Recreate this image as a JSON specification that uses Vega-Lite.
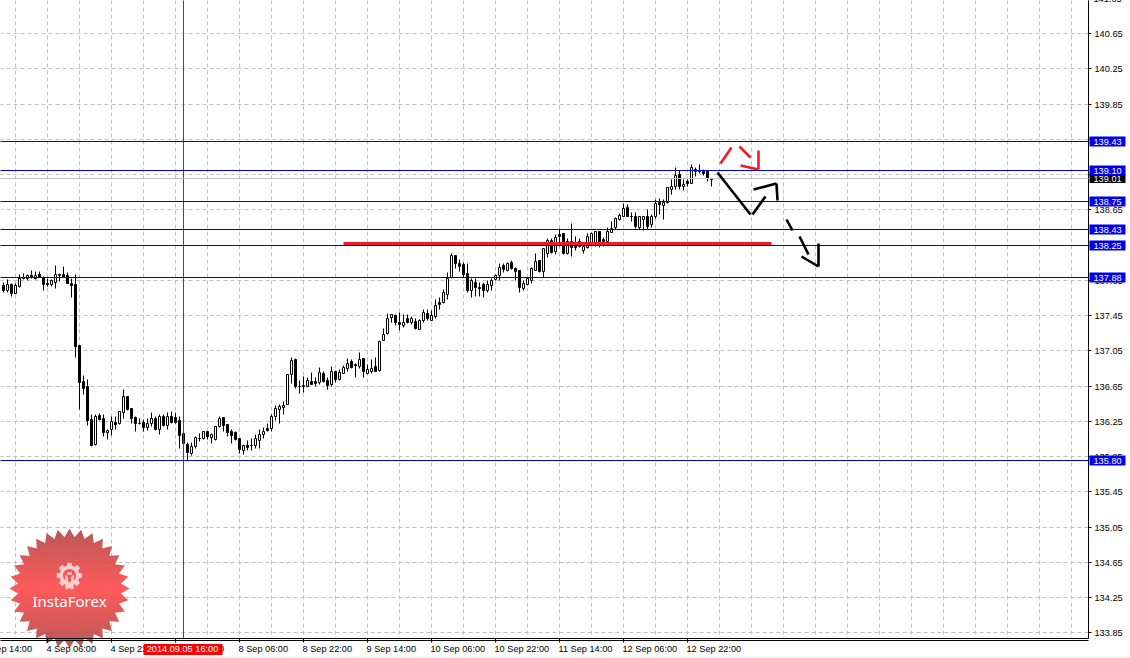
{"$schema":"https://vega.github.io/schema/vega-lite/v6.json","width":1088,"height":638,"autosize":{"type":"none"},"padding":{"left":0.5,"top":0.5,"right":41.5,"bottom":19.5},"background":"#ffffff","config":{"view":{"stroke":null}},
"datasets":{
"candles":[
{"i":0,"o":137.79,"h":137.83,"l":137.71,"c":137.73},{"i":1,"o":137.73,"h":137.86,"l":137.71,"c":137.8},{"i":2,"o":137.8,"h":137.81,"l":137.67,"c":137.7},{"i":3,"o":137.7,"h":137.82,"l":137.7,"c":137.79},{"i":4,"o":137.78,"h":137.92,"l":137.77,"c":137.87},{"i":5,"o":137.87,"h":137.93,"l":137.86,"c":137.88},{"i":6,"o":137.87,"h":137.92,"l":137.85,"c":137.9},{"i":7,"o":137.9,"h":137.96,"l":137.87,"c":137.88},{"i":8,"o":137.87,"h":137.95,"l":137.86,"c":137.91},{"i":9,"o":137.92,"h":137.95,"l":137.88,"c":137.88},
{"i":10,"o":137.88,"h":137.89,"l":137.73,"c":137.8},{"i":11,"o":137.81,"h":137.87,"l":137.78,"c":137.8},{"i":12,"o":137.8,"h":137.86,"l":137.78,"c":137.85},{"i":13,"o":137.83,"h":138.02,"l":137.76,"c":137.92},{"i":14,"o":137.91,"h":137.93,"l":137.84,"c":137.92},{"i":15,"o":137.92,"h":138.01,"l":137.88,"c":137.89},{"i":16,"o":137.9,"h":137.94,"l":137.82,"c":137.82},{"i":17,"o":137.82,"h":137.87,"l":137.65,"c":137.79},{"i":18,"o":137.8,"h":137.92,"l":136.98,"c":137.1},{"i":19,"o":137.11,"h":137.11,"l":136.38,"c":136.69},
{"i":20,"o":136.7,"h":136.77,"l":136.55,"c":136.62},{"i":21,"o":136.64,"h":136.73,"l":136.2,"c":136.26},{"i":22,"o":136.27,"h":136.33,"l":135.96,"c":135.98},{"i":23,"o":135.99,"h":136.33,"l":135.98,"c":136.31},{"i":24,"o":136.32,"h":136.34,"l":136.26,"c":136.27},{"i":25,"o":136.28,"h":136.33,"l":136.08,"c":136.12},{"i":26,"o":136.12,"h":136.16,"l":136.04,"c":136.15},{"i":27,"o":136.16,"h":136.3,"l":136.09,"c":136.25},{"i":28,"o":136.24,"h":136.3,"l":136.16,"c":136.21},{"i":29,"o":136.22,"h":136.36,"l":136.21,"c":136.36},
{"i":30,"o":136.35,"h":136.61,"l":136.28,"c":136.53},{"i":31,"o":136.53,"h":136.53,"l":136.37,"c":136.38},{"i":32,"o":136.39,"h":136.39,"l":136.22,"c":136.28},{"i":33,"o":136.29,"h":136.3,"l":136.14,"c":136.22},{"i":34,"o":136.23,"h":136.28,"l":136.21,"c":136.22},{"i":35,"o":136.24,"h":136.27,"l":136.13,"c":136.18},{"i":36,"o":136.18,"h":136.28,"l":136.15,"c":136.23},{"i":37,"o":136.23,"h":136.35,"l":136.19,"c":136.28},{"i":38,"o":136.28,"h":136.31,"l":136.15,"c":136.16},{"i":39,"o":136.16,"h":136.33,"l":136.1,"c":136.31},
{"i":40,"o":136.31,"h":136.33,"l":136.19,"c":136.2},{"i":41,"o":136.2,"h":136.35,"l":136.16,"c":136.3},{"i":42,"o":136.3,"h":136.36,"l":136.23,"c":136.24},{"i":43,"o":136.29,"h":136.35,"l":136.23,"c":136.24},{"i":44,"o":136.26,"h":136.31,"l":135.94,"c":136.09},{"i":45,"o":136.11,"h":136.26,"l":135.94,"c":136},{"i":46,"o":135.99,"h":136.01,"l":135.8,"c":135.9},{"i":47,"o":135.88,"h":136.01,"l":135.86,"c":135.96},{"i":48,"o":135.96,"h":136.08,"l":135.94,"c":136.07},{"i":49,"o":136.05,"h":136.11,"l":136.02,"c":136.06},
{"i":50,"o":136.05,"h":136.13,"l":136.04,"c":136.13},{"i":51,"o":136.13,"h":136.13,"l":136.04,"c":136.08},{"i":52,"o":136.07,"h":136.11,"l":136,"c":136.1},{"i":53,"o":136.04,"h":136.19,"l":136.03,"c":136.19},{"i":54,"o":136.19,"h":136.3,"l":136.18,"c":136.28},{"i":55,"o":136.29,"h":136.29,"l":136.13,"c":136.2},{"i":56,"o":136.21,"h":136.21,"l":136.08,"c":136.12},{"i":57,"o":136.13,"h":136.16,"l":136,"c":136.09},{"i":58,"o":136.12,"h":136.13,"l":136.03,"c":136.04},{"i":59,"o":136.05,"h":136.05,"l":135.89,"c":135.93},
{"i":60,"o":135.92,"h":135.97,"l":135.87,"c":135.97},{"i":61,"o":135.98,"h":136.03,"l":135.92,"c":135.95},{"i":62,"o":135.98,"h":136.05,"l":135.92,"c":135.97},{"i":63,"o":135.97,"h":136.1,"l":135.94,"c":136.05},{"i":64,"o":136.03,"h":136.16,"l":135.94,"c":136.1},{"i":65,"o":136.1,"h":136.18,"l":136.06,"c":136.14},{"i":66,"o":136.17,"h":136.23,"l":136.13,"c":136.15},{"i":67,"o":136.17,"h":136.33,"l":136.14,"c":136.31},{"i":68,"o":136.31,"h":136.43,"l":136.26,"c":136.39},{"i":69,"o":136.38,"h":136.44,"l":136.23,"c":136.42},
{"i":70,"o":136.41,"h":136.48,"l":136.33,"c":136.43},{"i":71,"o":136.44,"h":136.78,"l":136.44,"c":136.78},{"i":72,"o":136.78,"h":136.97,"l":136.68,"c":136.94},{"i":73,"o":136.95,"h":136.96,"l":136.62,"c":136.65},{"i":74,"o":136.65,"h":136.71,"l":136.57,"c":136.64},{"i":75,"o":136.64,"h":136.76,"l":136.58,"c":136.66},{"i":76,"o":136.65,"h":136.75,"l":136.64,"c":136.71},{"i":77,"o":136.7,"h":136.8,"l":136.67,"c":136.67},{"i":78,"o":136.7,"h":136.75,"l":136.64,"c":136.68},{"i":79,"o":136.69,"h":136.86,"l":136.67,"c":136.8},
{"i":80,"o":136.79,"h":136.81,"l":136.69,"c":136.7},{"i":81,"o":136.71,"h":136.75,"l":136.61,"c":136.66},{"i":82,"o":136.67,"h":136.87,"l":136.65,"c":136.82},{"i":83,"o":136.81,"h":136.83,"l":136.69,"c":136.73},{"i":84,"o":136.72,"h":136.84,"l":136.71,"c":136.8},{"i":85,"o":136.79,"h":136.88,"l":136.79,"c":136.86},{"i":86,"o":136.85,"h":136.96,"l":136.82,"c":136.91},{"i":87,"o":136.93,"h":136.95,"l":136.85,"c":136.86},{"i":88,"o":136.89,"h":136.91,"l":136.75,"c":136.88},{"i":89,"o":136.87,"h":137.03,"l":136.85,"c":136.95},
{"i":90,"o":136.96,"h":136.96,"l":136.75,"c":136.81},{"i":91,"o":136.79,"h":136.9,"l":136.78,"c":136.84},{"i":92,"o":136.82,"h":136.95,"l":136.79,"c":136.85},{"i":93,"o":136.87,"h":136.97,"l":136.81,"c":136.82},{"i":94,"o":136.83,"h":137.17,"l":136.82,"c":137.16},{"i":95,"o":137.17,"h":137.3,"l":137.17,"c":137.24},{"i":96,"o":137.25,"h":137.47,"l":137.23,"c":137.42},{"i":97,"o":137.43,"h":137.46,"l":137.37,"c":137.46},{"i":98,"o":137.45,"h":137.46,"l":137.34,"c":137.37},{"i":99,"o":137.37,"h":137.49,"l":137.28,"c":137.35},
{"i":100,"o":137.34,"h":137.46,"l":137.32,"c":137.37},{"i":101,"o":137.42,"h":137.46,"l":137.36,"c":137.37},{"i":102,"o":137.37,"h":137.44,"l":137.35,"c":137.42},{"i":103,"o":137.38,"h":137.42,"l":137.29,"c":137.3},{"i":104,"o":137.29,"h":137.41,"l":137.29,"c":137.4},{"i":105,"o":137.39,"h":137.52,"l":137.37,"c":137.48},{"i":106,"o":137.47,"h":137.52,"l":137.4,"c":137.42},{"i":107,"o":137.4,"h":137.51,"l":137.39,"c":137.45},{"i":108,"o":137.44,"h":137.63,"l":137.42,"c":137.57},{"i":109,"o":137.6,"h":137.65,"l":137.52,"c":137.58},
{"i":110,"o":137.6,"h":137.75,"l":137.59,"c":137.71},{"i":111,"o":137.69,"h":137.94,"l":137.63,"c":137.87},{"i":112,"o":137.88,"h":138.15,"l":137.87,"c":138.13},{"i":113,"o":138.13,"h":138.13,"l":137.98,"c":138.04},{"i":114,"o":138.04,"h":138.09,"l":137.95,"c":138.01},{"i":115,"o":138.03,"h":138.05,"l":137.88,"c":137.92},{"i":116,"o":137.93,"h":138.04,"l":137.71,"c":137.74},{"i":117,"o":137.74,"h":137.87,"l":137.66,"c":137.85},{"i":118,"o":137.83,"h":137.87,"l":137.67,"c":137.77},{"i":119,"o":137.77,"h":137.83,"l":137.67,"c":137.76},
{"i":120,"o":137.8,"h":137.83,"l":137.65,"c":137.74},{"i":121,"o":137.74,"h":137.85,"l":137.71,"c":137.8},{"i":122,"o":137.79,"h":137.87,"l":137.73,"c":137.85},{"i":123,"o":137.86,"h":137.92,"l":137.85,"c":137.9},{"i":124,"o":137.91,"h":138.04,"l":137.85,"c":138},{"i":125,"o":138.02,"h":138.04,"l":137.94,"c":137.97},{"i":126,"o":137.96,"h":138.05,"l":137.95,"c":138.04},{"i":127,"o":138.05,"h":138.07,"l":137.97,"c":137.99},{"i":128,"o":137.98,"h":138,"l":137.85,"c":137.95},{"i":129,"o":137.96,"h":137.96,"l":137.71,"c":137.77},
{"i":130,"o":137.76,"h":137.85,"l":137.74,"c":137.82},{"i":131,"o":137.8,"h":137.88,"l":137.79,"c":137.87},{"i":132,"o":137.85,"h":138,"l":137.82,"c":137.98},{"i":133,"o":137.96,"h":138.15,"l":137.96,"c":138.06},{"i":134,"o":138.07,"h":138.07,"l":137.94,"c":137.95},{"i":135,"o":137.95,"h":138.21,"l":137.88,"c":138.21},{"i":136,"o":138.16,"h":138.33,"l":138.11,"c":138.3},{"i":137,"o":138.3,"h":138.33,"l":138.16,"c":138.17},{"i":138,"o":138.18,"h":138.37,"l":138.14,"c":138.34},{"i":139,"o":138.37,"h":138.44,"l":138.24,"c":138.35},
{"i":140,"o":138.38,"h":138.38,"l":138.14,"c":138.15},{"i":141,"o":138.16,"h":138.32,"l":138.14,"c":138.29},{"i":142,"o":138.29,"h":138.5,"l":138.12,"c":138.22},{"i":143,"o":138.24,"h":138.35,"l":138.19,"c":138.22},{"i":144,"o":138.23,"h":138.33,"l":138.22,"c":138.29},{"i":145,"o":138.19,"h":138.28,"l":138.16,"c":138.24},{"i":146,"o":138.22,"h":138.38,"l":138.21,"c":138.35},{"i":147,"o":138.28,"h":138.39,"l":138.26,"c":138.38},{"i":148,"o":138.28,"h":138.41,"l":138.23,"c":138.41},{"i":149,"o":138.41,"h":138.41,"l":138.22,"c":138.28},
{"i":150,"o":138.31,"h":138.34,"l":138.24,"c":138.29},{"i":151,"o":138.29,"h":138.45,"l":138.28,"c":138.41},{"i":152,"o":138.39,"h":138.52,"l":138.39,"c":138.44},{"i":153,"o":138.45,"h":138.56,"l":138.43,"c":138.55},{"i":154,"o":138.54,"h":138.61,"l":138.53,"c":138.59},{"i":155,"o":138.57,"h":138.72,"l":138.57,"c":138.67},{"i":156,"o":138.68,"h":138.71,"l":138.57,"c":138.57},{"i":157,"o":138.58,"h":138.62,"l":138.52,"c":138.57},{"i":158,"o":138.58,"h":138.62,"l":138.44,"c":138.46},{"i":159,"o":138.45,"h":138.58,"l":138.43,"c":138.57},
{"i":160,"o":138.54,"h":138.58,"l":138.42,"c":138.57},{"i":161,"o":138.57,"h":138.65,"l":138.43,"c":138.46},{"i":162,"o":138.48,"h":138.6,"l":138.45,"c":138.58},{"i":163,"o":138.57,"h":138.77,"l":138.55,"c":138.72},{"i":164,"o":138.73,"h":138.78,"l":138.6,"c":138.71},{"i":165,"o":138.7,"h":138.77,"l":138.54,"c":138.73},{"i":166,"o":138.73,"h":138.9,"l":138.72,"c":138.9},{"i":167,"o":138.88,"h":139,"l":138.83,"c":138.92},{"i":168,"o":138.91,"h":139.13,"l":138.88,"c":139.04},{"i":169,"o":139.05,"h":139.1,"l":138.88,"c":138.91},
{"i":170,"o":138.92,"h":138.99,"l":138.87,"c":138.94},{"i":171,"o":138.97,"h":138.99,"l":138.92,"c":138.95},{"i":172,"o":138.95,"h":139.17,"l":138.95,"c":139.13},{"i":173,"o":139.08,"h":139.13,"l":139.03,"c":139.11},{"i":174,"o":139.1,"h":139.16,"l":139.06,"c":139.09},{"i":175,"o":139.08,"h":139.11,"l":139.04,"c":139.06},{"i":176,"o":139.08,"h":139.1,"l":138.97,"c":139.02},{"i":177,"o":139.01,"h":139.01,"l":138.92,"c":139}
],
"levels":[{"p":139.43,"t":"139.43"},{"p":139.1,"t":"139.10"},{"p":138.75,"t":"138.75"},{"p":138.43,"t":"138.43"},{"p":138.25,"t":"138.25"},{"p":137.88,"t":"137.88"},{"p":135.8,"t":"135.80"}],
"segs":[
{"x1":178.46,"p1":139.076,"x2":186.63,"p2":138.595,"col":"#000000"},{"x1":187.13,"p1":138.595,"x2":190.46,"p2":138.8,"col":"#000000"},{"x1":187.46,"p1":138.887,"x2":193.13,"p2":138.951,"col":"#000000"},{"x1":193.13,"p1":138.951,"x2":193.54,"p2":138.762,"col":"#000000"},{"x1":195.63,"p1":138.539,"x2":197.21,"p2":138.421,"col":"#000000"},{"x1":198.88,"p1":138.346,"x2":201.13,"p2":138.149,"col":"#000000"},{"x1":199.38,"p1":138.122,"x2":203.71,"p2":138.005,"col":"#000000"},{"x1":203.71,"p1":138.005,"x2":203.71,"p2":138.274,"col":"#000000"},
{"x1":179.21,"p1":139.182,"x2":181.88,"p2":139.36,"col":"#ee1c25"},{"x1":184.04,"p1":139.371,"x2":186.71,"p2":139.239,"col":"#ee1c25"},{"x1":184.29,"p1":139.159,"x2":188.79,"p2":139.114,"col":"#ee1c25"},{"x1":188.79,"p1":139.114,"x2":188.79,"p2":139.322,"col":"#ee1c25"}],
"xlabels":[{"i":-5,"t":"3 Sep 14:00"},{"i":11,"t":"4 Sep 06:00"},{"i":27,"t":"4 Sep 22:00"},{"i":43,"t":"5 Sep 14:00"},{"i":59,"t":"8 Sep 06:00"},{"i":75,"t":"8 Sep 22:00"},{"i":91,"t":"9 Sep 14:00"},{"i":107,"t":"10 Sep 06:00"},{"i":123,"t":"10 Sep 22:00"},{"i":139,"t":"11 Sep 14:00"},{"i":155,"t":"12 Sep 06:00"},{"i":171,"t":"12 Sep 22:00"}]
},
"layer":[
{"data":{"name":"candles"},"mark":{"type":"rule","color":"#000000","strokeWidth":1},
"encoding":{"x":{"field":"i","type":"quantitative","title":null,"scale":{"domain":[-0.75,271.25],"nice":false,"zero":false,"padding":0,"round":true},
"axis":{"title":null,"translate":0,"tickCount":100,"values":[3,11,19,27,35,43,51,59,67,75,83,91,99,107,115,123,131,139,147,155,163,171,179,187,195,203,211,219,227,235,243,251,259,267],"labels":false,"ticks":false,"grid":true,"gridColor":"#c0c0c0","gridDash":[4,3],"gridWidth":1,"domain":true,"domainColor":"#000000"}},
"y":{"field":"l","type":"quantitative","title":null,"scale":{"domain":[133.7847,141.0267],"nice":false,"zero":false,"round":true},
"axis":{"title":null,"translate":0,"tickCount":100,"orient":"right","values":[140.65,140.25,139.85,139.45,139.05,138.65,138.25,137.85,137.45,137.05,136.65,136.25,135.85,135.45,135.05,134.65,134.25,133.85],"format":".2f","grid":true,"gridColor":"#c0c0c0","gridDash":[4,3],"gridWidth":1,"domain":true,"domainColor":"#000000","tickColor":"#000000","tickSize":3,"labelFont":"Liberation Sans","labelFontSize":9.2,"labelColor":"#000000","labelPadding":3,"labelOverlap":false,"labelFlush":false}},
"y2":{"field":"h"}}},
{"data":{"name":"candles"},"mark":{"type":"bar","size":2,"stroke":"#000000","strokeWidth":1,"orient":"vertical"},
"encoding":{"x":{"field":"i","type":"quantitative","title":null,"scale":{"domain":[-0.75,271.25],"nice":false,"zero":false,"padding":0,"round":true}},
"y":{"field":"o","type":"quantitative","title":null,"scale":{"domain":[133.7847,141.0267],"nice":false,"zero":false,"round":true}},"y2":{"field":"c"},
"fill":{"condition":{"test":"datum.c>=datum.o","value":"#ffffff"},"value":"#000000"}}},
{"data":{"values":[{"i":45}]},"mark":{"type":"rule","color":"#d01414","strokeWidth":1},"encoding":{"x":{"field":"i","type":"quantitative","title":null,"scale":{"domain":[-0.75,271.25],"nice":false,"zero":false,"padding":0,"round":true}}}},
{"data":{"values":[{"p":139.01}]},"mark":{"type":"rule","color":"#c0c0c0","strokeWidth":1},"encoding":{"y":{"field":"p","type":"quantitative","title":null,"scale":{"domain":[133.7847,141.0267],"nice":false,"zero":false,"round":true}}}},
{"data":{"name":"levels"},"mark":{"type":"rule","color":"#0000dd","strokeWidth":1},"encoding":{"y":{"field":"p","type":"quantitative","title":null,"scale":{"domain":[133.7847,141.0267],"nice":false,"zero":false,"round":true}}}},
{"data":{"values":[{"p":138.267}]},"mark":{"type":"rule","color":"#ed1c2e","strokeWidth":3},"encoding":{"x":{"datum":85.1,"type":"quantitative","title":null,"scale":{"domain":[-0.75,271.25],"nice":false,"zero":false,"padding":0,"round":true}},"x2":{"datum":192.1},"y":{"field":"p","type":"quantitative","title":null,"scale":{"domain":[133.7847,141.0267],"nice":false,"zero":false,"round":true}}}},
{"data":{"name":"segs"},"mark":{"type":"rule","strokeWidth":2.6},"encoding":{"x":{"field":"x1","type":"quantitative","title":null,"scale":{"domain":[-0.75,271.25],"nice":false,"zero":false,"padding":0,"round":true}},"x2":{"field":"x2"},"y":{"field":"p1","type":"quantitative","title":null,"scale":{"domain":[133.7847,141.0267],"nice":false,"zero":false,"round":true}},"y2":{"field":"p2"},"stroke":{"field":"col","type":"nominal","scale":null}}},
{"data":{"values":[{"n":"badge"}]},"mark":{"type":"point","filled":true,"opacity":0.94,"size":14400,"strokeWidth":0,"shape":"M1,0 L.856,.084 L.981,.195 L.823,.25 L.924,.383 L.758,.405 L.831,.556 L.665,.546 L.707,.707 L.546,.665 L.556,.831 L.405,.758 L.383,.924 L.25,.823 L.195,.981 L.084,.856 L0,1 L-.084,.856 L-.195,.981 L-.25,.823 L-.383,.924 L-.405,.758 L-.556,.831 L-.546,.665 L-.707,.707 L-.665,.546 L-.831,.556 L-.758,.405 L-.924,.383 L-.823,.25 L-.981,.195 L-.856,.084 L-1,0 L-.856,-.084 L-.981,-.195 L-.823,-.25 L-.924,-.383 L-.758,-.405 L-.831,-.556 L-.665,-.546 L-.707,-.707 L-.546,-.665 L-.556,-.831 L-.405,-.758 L-.383,-.924 L-.25,-.823 L-.195,-.981 L-.084,-.856 L0,-1 L.084,-.856 L.195,-.981 L.25,-.823 L.383,-.924 L.405,-.758 L.556,-.831 L.546,-.665 L.707,-.707 L.665,-.546 L.831,-.556 L.758,-.405 L.924,-.383 L.823,-.25 L.981,-.195 L.856,-.084 Z","fill":{"gradient":"linear","x1":0,"y1":0,"x2":0,"y2":1,"stops":[{"offset":0,"color":"#b54d4d"},{"offset":0.5,"color":"#ff5050"},{"offset":1,"color":"#b54d4d"}]}},
"encoding":{"x":{"datum":16.6,"type":"quantitative","title":null,"scale":{"domain":[-0.75,271.25],"nice":false,"zero":false,"padding":0,"round":true}},"y":{"datum":134.355,"type":"quantitative","title":null,"scale":{"domain":[133.7847,141.0267],"nice":false,"zero":false,"round":true}}}},
{"data":{"values":[{"n":"gear"}]},"mark":{"type":"point","filled":true,"size":676,"strokeWidth":0,"fill":"#ffffff","shape":"M-.2,-.75 L-.17,-.98 L.17,-.98 L.2,-.75 L.389,-.672 L.573,-.813 L.813,-.573 L.672,-.389 L.75,-.2 L.98,-.17 L.98,.17 L.75,.2 L.672,.389 L.813,.573 L.573,.813 L.389,.672 L.2,.75 L.17,.98 L-.17,.98 L-.2,.75 L-.389,.672 L-.573,.813 L-.813,.573 L-.672,.389 L-.75,.2 L-.98,.17 L-.98,-.17 L-.75,-.2 L-.672,-.389 L-.813,-.573 L-.573,-.813 L-.389,-.672 Z M0,-.5 A.5,.5 0 1 0 0,.5 A.5,.5 0 1 0 0,-.5 Z M-.17,-.25 L.17,-.25 L.17,-.05 L-.17,-.05 Z M-.36,0 L-.2,0 L-.12,.15 L-.12,1.05 L-.32,1.05 L-.32,.2 Z M.2,0 L.36,0 L.32,.2 L.32,1.05 L.12,1.05 L.12,.15 Z"},
"encoding":{"x":{"datum":16.45,"type":"quantitative","title":null,"scale":{"domain":[-0.75,271.25],"nice":false,"zero":false,"padding":0,"round":true}},"y":{"datum":134.498,"type":"quantitative","title":null,"scale":{"domain":[133.7847,141.0267],"nice":false,"zero":false,"round":true}}}},
{"data":{"values":[{"t":"InstaForex"}]},"mark":{"type":"text","font":"Noto Sans","fontSize":15,"color":"#ffffff","align":"center","baseline":"middle"},
"encoding":{"text":{"field":"t"},"x":{"datum":16.5,"type":"quantitative","title":null,"scale":{"domain":[-0.75,271.25],"nice":false,"zero":false,"padding":0,"round":true}},"y":{"datum":134.207,"type":"quantitative","title":null,"scale":{"domain":[133.7847,141.0267],"nice":false,"zero":false,"round":true}}}},
{"data":{"values":[{"p":133.7847},{"p":133.762}]},"mark":{"type":"rule","color":"#000000","strokeWidth":1},"encoding":{"y":{"field":"p","type":"quantitative","title":null,"scale":{"domain":[133.7847,141.0267],"nice":false,"zero":false,"round":true}}}},
{"data":{"name":"xlabels"},"mark":{"type":"rule","color":"#000000","strokeWidth":1},"encoding":{"x":{"field":"i","type":"quantitative","title":null,"scale":{"domain":[-0.75,271.25],"nice":false,"zero":false,"padding":0,"round":true}},"y":{"datum":133.7847,"type":"quantitative","title":null,"scale":{"domain":[133.7847,141.0267],"nice":false,"zero":false,"round":true}},"y2":{"datum":133.7393}}},
{"data":{"name":"xlabels"},"mark":{"type":"text","font":"Liberation Sans","fontSize":9.2,"color":"#000000","align":"left","baseline":"middle","dx":-1},
"encoding":{"text":{"field":"t"},"x":{"field":"i","type":"quantitative","title":null,"scale":{"domain":[-0.75,271.25],"nice":false,"zero":false,"padding":0,"round":true}},"y":{"datum":133.675,"type":"quantitative","title":null,"scale":{"domain":[133.7847,141.0267],"nice":false,"zero":false,"round":true}}}},
{"data":{"values":[{"t":"2014.09.05 16:00"}]},"mark":{"type":"rule","color":"#ff0000","strokeWidth":11},"encoding":{"x":{"datum":34.875,"type":"quantitative","title":null,"scale":{"domain":[-0.75,271.25],"nice":false,"zero":false,"padding":0,"round":true}},"x2":{"datum":54.8},"y":{"datum":133.664,"type":"quantitative","title":null,"scale":{"domain":[133.7847,141.0267],"nice":false,"zero":false,"round":true}}}},
{"data":{"values":[{"t":"2014.09.05 16:00"}]},"mark":{"type":"text","font":"Liberation Sans","fontSize":9.2,"color":"#ffffff","align":"center","baseline":"middle"},"encoding":{"text":{"field":"t"},"x":{"datum":44.85,"type":"quantitative","title":null,"scale":{"domain":[-0.75,271.25],"nice":false,"zero":false,"padding":0,"round":true}},"y":{"datum":133.675,"type":"quantitative","title":null,"scale":{"domain":[133.7847,141.0267],"nice":false,"zero":false,"round":true}}}},
{"data":{"values":[{"p":139.01}]},"mark":{"type":"rule","color":"#000000","strokeWidth":9},"encoding":{"x":{"datum":271.6,"type":"quantitative","title":null,"scale":{"domain":[-0.75,271.25],"nice":false,"zero":false,"padding":0,"round":true}},"x2":{"datum":280.4},"y":{"field":"p","type":"quantitative","title":null,"scale":{"domain":[133.7847,141.0267],"nice":false,"zero":false,"round":true}}}},
{"data":{"values":[{"p":139.01,"t":"139.01"}]},"mark":{"type":"text","font":"Liberation Sans","fontSize":9.2,"color":"#ffffff","align":"left","baseline":"middle"},"encoding":{"text":{"field":"t"},"x":{"datum":272.6,"type":"quantitative","title":null,"scale":{"domain":[-0.75,271.25],"nice":false,"zero":false,"padding":0,"round":true}},"y":{"field":"p","type":"quantitative","title":null,"scale":{"domain":[133.7847,141.0267],"nice":false,"zero":false,"round":true}}}},
{"data":{"name":"levels"},"mark":{"type":"rule","color":"#0000ee","strokeWidth":10},"encoding":{"x":{"datum":271.6,"type":"quantitative","title":null,"scale":{"domain":[-0.75,271.25],"nice":false,"zero":false,"padding":0,"round":true}},"x2":{"datum":280.4},"y":{"field":"p","type":"quantitative","title":null,"scale":{"domain":[133.7847,141.0267],"nice":false,"zero":false,"round":true}}}},
{"data":{"name":"levels"},"mark":{"type":"text","font":"Liberation Sans","fontSize":9.2,"color":"#ffffff","align":"left","baseline":"middle"},"encoding":{"text":{"field":"t"},"x":{"datum":272.6,"type":"quantitative","title":null,"scale":{"domain":[-0.75,271.25],"nice":false,"zero":false,"padding":0,"round":true}},"y":{"field":"p","type":"quantitative","title":null,"scale":{"domain":[133.7847,141.0267],"nice":false,"zero":false,"round":true}}}},
{"data":{"values":[{"p":141.05,"t":"141.05"}]},"mark":{"type":"text","font":"Liberation Sans","fontSize":9.2,"color":"#000000","align":"left","baseline":"middle"},"encoding":{"text":{"field":"t"},"x":{"datum":272.6,"type":"quantitative","title":null,"scale":{"domain":[-0.75,271.25],"nice":false,"zero":false,"padding":0,"round":true}},"y":{"field":"p","type":"quantitative","title":null,"scale":{"domain":[133.7847,141.0267],"nice":false,"zero":false,"round":true}}}},
{"data":{"values":[{"p":133.569}]},"mark":{"type":"rule","color":"#f0f0f0","strokeWidth":2},"encoding":{"x":{"datum":-0.75,"type":"quantitative","title":null,"scale":{"domain":[-0.75,271.25],"nice":false,"zero":false,"padding":0,"round":true}},"x2":{"datum":281.8},"y":{"field":"p","type":"quantitative","title":null,"scale":{"domain":[133.7847,141.0267],"nice":false,"zero":false,"round":true}}}}
]}
